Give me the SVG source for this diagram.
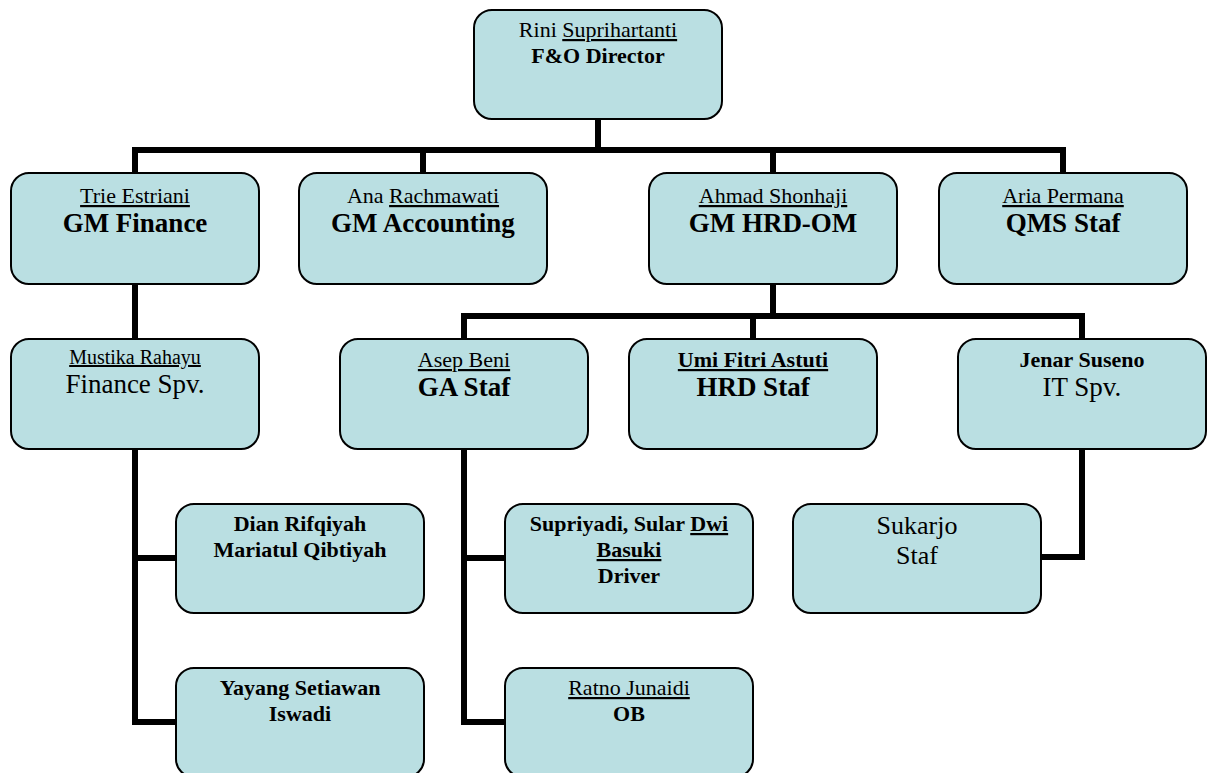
<svg xmlns="http://www.w3.org/2000/svg" width="1210" height="773" viewBox="0 0 1210 773">
  <style>
    .box { fill: #badfe2; stroke: #000; stroke-width: 2; }
    .wire { fill: none; stroke: #000; stroke-width: 6; stroke-linejoin: miter; stroke-linecap: butt; }
    text { font-family: "Liberation Serif", "Times New Roman", serif; fill: #000; text-anchor: middle; }
    .s20 { font-size: 20px; }
    .s22 { font-size: 22px; }
    .s26 { font-size: 26px; }
    .s27 { font-size: 27px; }
    .b { font-weight: bold; }
    .u { text-decoration: underline; }
  </style>
  <rect width="1210" height="773" fill="#fff"/>

  <!-- connectors -->
  <g id="connectors">
    <path class="wire" d="M598 119 V150"/>
    <path class="wire" d="M135 173 V150 H1063 V173"/>
    <path class="wire" d="M423 150 V173"/>
    <path class="wire" d="M773 150 V173"/>
    <path class="wire" d="M135 284 V339"/>
    <path class="wire" d="M773 284 V316"/>
    <path class="wire" d="M464 339 V316 H1082 V339"/>
    <path class="wire" d="M753 316 V339"/>
    <path class="wire" d="M135 449 V722 H176"/>
    <path class="wire" d="M135 558 H176"/>
    <path class="wire" d="M464 449 V722 H505"/>
    <path class="wire" d="M464 558 H505"/>
    <path class="wire" d="M1082 449 V557 H1039"/>
  </g>

  <!-- top -->
  <g id="director">
    <rect class="box" x="474" y="10" width="248" height="109" rx="18"/>
    <text x="598" y="37" class="s22">Rini <tspan class="u">Suprihartanti</tspan></text>
    <text x="598" y="63" class="s22 b">F&amp;O Director</text>
  </g>

  <!-- level 1 -->
  <g id="gm-finance">
    <rect class="box" x="11" y="173" width="248" height="111" rx="18"/>
    <text x="135" y="203" class="s22"><tspan class="u">Trie Estriani</tspan></text>
    <text x="135" y="232" class="s27 b">GM Finance</text>
  </g>
  <g id="gm-accounting">
    <rect class="box" x="299" y="173" width="248" height="111" rx="18"/>
    <text x="423" y="203" class="s22">Ana <tspan class="u">Rachmawati</tspan></text>
    <text x="423" y="232" class="s27 b">GM Accounting</text>
  </g>
  <g id="gm-hrd">
    <rect class="box" x="649" y="173" width="248" height="111" rx="18"/>
    <text x="773" y="203" class="s22"><tspan class="u">Ahmad Shonhaji</tspan></text>
    <text x="773" y="232" class="s27 b">GM HRD-OM</text>
  </g>
  <g id="qms">
    <rect class="box" x="939" y="173" width="248" height="111" rx="18"/>
    <text x="1063" y="203" class="s22"><tspan class="u">Aria Permana</tspan></text>
    <text x="1063" y="232" class="s27 b">QMS Staf</text>
  </g>

  <!-- level 2 -->
  <g id="finance-spv">
    <rect class="box" x="11" y="339" width="248" height="110" rx="18"/>
    <text x="135" y="364" class="s20"><tspan class="u">Mustika Rahayu</tspan></text>
    <text x="135" y="393" class="s27">Finance Spv.</text>
  </g>
  <g id="ga-staf">
    <rect class="box" x="340" y="339" width="248" height="110" rx="18"/>
    <text x="464" y="367" class="s22"><tspan class="u">Asep Beni</tspan></text>
    <text x="464" y="396" class="s27 b">GA Staf</text>
  </g>
  <g id="hrd-staf">
    <rect class="box" x="629" y="339" width="248" height="110" rx="18"/>
    <text x="753" y="367" class="s22 b"><tspan class="u">Umi Fitri Astuti</tspan></text>
    <text x="753" y="396" class="s27 b">HRD Staf</text>
  </g>
  <g id="it-spv">
    <rect class="box" x="958" y="339" width="248" height="110" rx="18"/>
    <text x="1082" y="367" class="s22 b">Jenar Suseno</text>
    <text x="1082" y="396" class="s27">IT Spv.</text>
  </g>

  <!-- level 3 -->
  <g id="finance-staf-1">
    <rect class="box" x="176" y="504" width="248" height="109" rx="18"/>
    <text x="300" y="531" class="s22 b">Dian Rifqiyah</text>
    <text x="300" y="557" class="s22 b">Mariatul Qibtiyah</text>
  </g>
  <g id="driver">
    <rect class="box" x="505" y="504" width="248" height="109" rx="18"/>
    <text x="629" y="531" class="s22 b">Supriyadi, Sular <tspan class="u">Dwi</tspan></text>
    <text x="629" y="557" class="s22 b"><tspan class="u">Basuki</tspan></text>
    <text x="629" y="583" class="s22 b">Driver</text>
  </g>
  <g id="it-staf">
    <rect class="box" x="793" y="504" width="248" height="109" rx="18"/>
    <text x="917" y="534" class="s26">Sukarjo</text>
    <text x="917" y="564" class="s26">Staf</text>
  </g>

  <!-- level 4 -->
  <g id="finance-staf-2">
    <rect class="box" x="176" y="668" width="248" height="109" rx="18"/>
    <text x="300" y="695" class="s22 b">Yayang Setiawan</text>
    <text x="300" y="721" class="s22 b">Iswadi</text>
  </g>
  <g id="ob">
    <rect class="box" x="505" y="668" width="248" height="109" rx="18"/>
    <text x="629" y="695" class="s22"><tspan class="u">Ratno Junaidi</tspan></text>
    <text x="629" y="721" class="s22 b">OB</text>
  </g>
</svg>
